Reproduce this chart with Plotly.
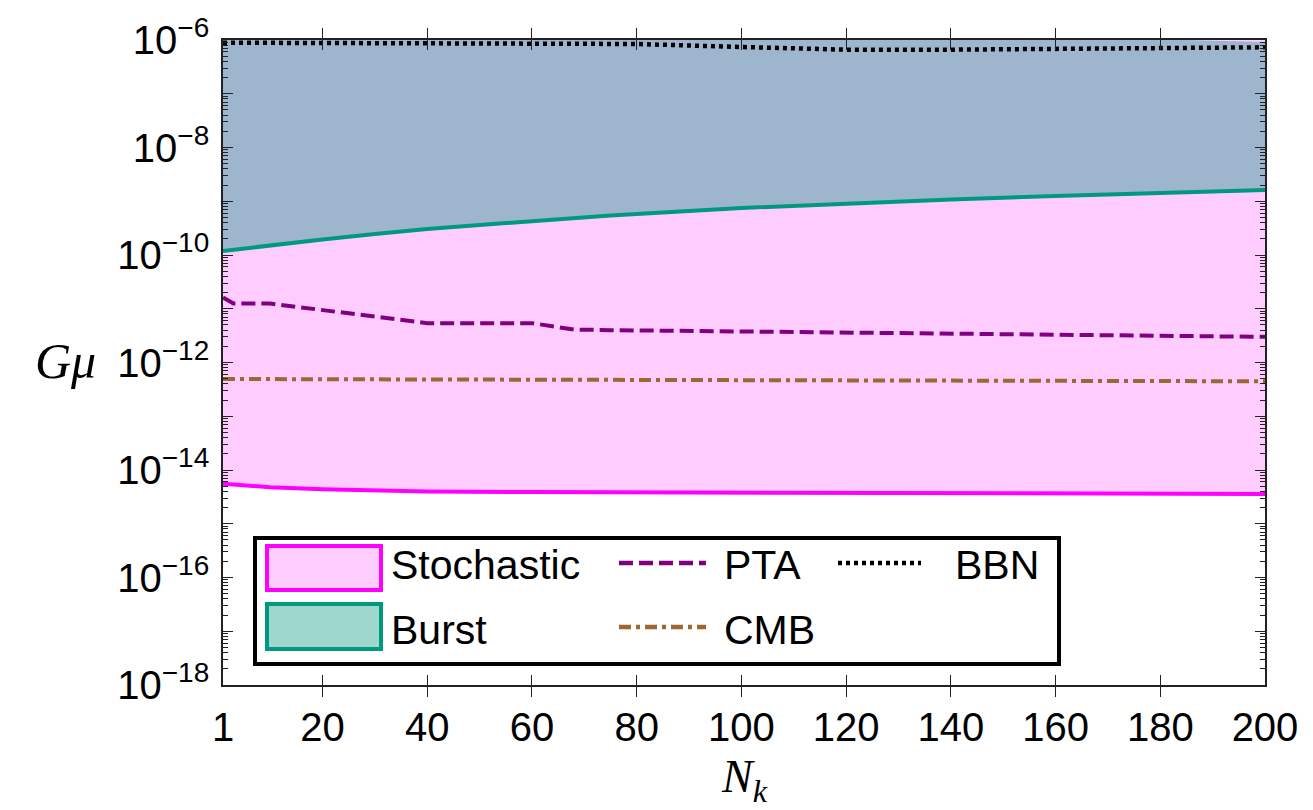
import plotly.graph_objects as go

# ---------------- data ----------------
N_burst = [1, 10, 20, 30, 40, 50, 60, 75, 100, 120, 140, 160, 180, 200]
burst_lower = [1.19e-10, 1.53e-10, 1.94e-10, 2.46e-10, 3.05e-10, 3.62e-10, 4.30e-10,
               5.43e-10, 7.49e-10, 9.08e-10, 1.08e-9, 1.25e-9, 1.42e-9, 1.62e-9]
N_burst_top = [1, 160, 200]
burst_upper = [1.15e-6, 1.15e-6, 9.2e-7]

N_stoch = [1, 10, 20, 30, 40, 60, 80, 120, 160, 200]
stoch_lower = [5.56e-15, 4.79e-15, 4.37e-15, 4.12e-15, 3.98e-15, 3.89e-15, 3.85e-15,
               3.76e-15, 3.67e-15, 3.57e-15]
N_stoch_top = [1, 200]
stoch_upper = [1.2e-6, 1.2e-6]

N_pta = [1, 3, 10, 40, 60, 68, 75, 100, 125, 150, 175, 200]
pta = [1.62e-11, 1.25e-11, 1.25e-11, 5.4e-12, 5.4e-12, 4.1e-12, 4.0e-12, 3.8e-12,
       3.6e-12, 3.4e-12, 3.2e-12, 3.0e-12]

N_cmb = [1, 50, 100, 150, 200]
cmb = [4.93e-13, 4.80e-13, 4.70e-13, 4.58e-13, 4.47e-13]

N_bbn = [1, 40, 75, 80, 100, 120, 140, 160, 180, 200]
bbn = [8.91e-7, 8.81e-7, 8.69e-7, 8.43e-7, 7.41e-7, 6.61e-7, 6.61e-7, 6.92e-7,
       7.10e-7, 7.31e-7]

x_ticks = [1, 20, 40, 60, 80, 100, 120, 140, 160, 180, 200]
y_labelled = [-18, -16, -14, -12, -10, -8, -6]
y_unlabelled = [-17, -15, -13, -11, -9, -7]

legend_names = ["Stochastic", "Burst", "PTA", "CMB", "BBN"]

# ---------------- styles ----------------
PINK = "rgb(255,204,255)"
MAGENTA = "#ff00ff"
TEAL_LINE = "rgb(0,153,128)"
TEAL_FILL = "rgba(0,145,125,0.38)"
TEAL_SWATCH = "rgb(158,216,204)"
PURPLE = "#800080"
BROWN = "rgb(155,104,52)"
FONT = "Liberation Sans, Arial, sans-serif"
SERIF = "Liberation Serif, Times New Roman, serif"

W, H = 1313, 810
L, R, T, B = 215, 1257, 32, 677  # plot area in pixels

fig = go.Figure()

fig.add_trace(go.Scatter(
    x=N_stoch + N_stoch_top[::-1], y=stoch_lower + stoch_upper[::-1],
    fill="toself", fillcolor=PINK, line=dict(width=0), mode="lines",
    showlegend=False, hoverinfo="skip"))
fig.add_trace(go.Scatter(
    x=N_burst + N_burst_top[::-1], y=burst_lower + burst_upper[::-1],
    fill="toself", fillcolor=TEAL_FILL, line=dict(width=0), mode="lines",
    showlegend=False, hoverinfo="skip"))

fig.add_trace(go.Scatter(x=N_stoch, y=stoch_lower, mode="lines",
                         line=dict(color=MAGENTA, width=4), showlegend=False))
fig.add_trace(go.Scatter(x=N_burst, y=burst_lower, mode="lines",
                         line=dict(color=TEAL_LINE, width=4), showlegend=False))
fig.add_trace(go.Scatter(x=N_pta, y=pta, mode="lines",
                         line=dict(color=PURPLE, width=4, dash="14px,6px"), showlegend=False))
fig.add_trace(go.Scatter(x=N_cmb, y=cmb, mode="lines",
                         line=dict(color=BROWN, width=4, dash="12px,5px,4px,5px"), showlegend=False))
fig.add_trace(go.Scatter(x=N_bbn, y=bbn, mode="lines",
                         line=dict(color="black", width=4.5, dash="4px,4px"), showlegend=False))

# ---------------- axes ----------------
ytickvals = [10.0 ** e for e in y_labelled]
yticktext = ["10<sup>\u2212%d</sup>" % (-e) for e in y_labelled]
yminor = [k * 10.0 ** e for e in range(-18, -6) for k in range(2, 10)]

fig.update_xaxes(range=[1, 200], tickvals=x_ticks, ticktext=[str(v) for v in x_ticks],
                 showline=True, linecolor="#222", linewidth=1.5, mirror="allticks",
                 ticks="inside", ticklen=10, tickwidth=1.2, tickcolor="#222",
                 tickfont=dict(family=FONT, size=40, color="black"),
                 ticklabelstandoff=6, showgrid=False, zeroline=False, automargin=False)
fig.update_yaxes(type="log", range=[-18, -6], tickvals=ytickvals, ticktext=yticktext,
                 showline=True, linecolor="#222", linewidth=1.5, mirror="allticks",
                 ticks="inside", ticklen=10, tickwidth=1.2, tickcolor="#222",
                 tickfont=dict(family=FONT, size=40, color="black"),
                 ticklabelstandoff=4, showgrid=False, zeroline=False, automargin=False,
                 minor=dict(tickvals=yminor, ticks="inside", ticklen=5, tickwidth=1,
                            tickcolor="#222", showgrid=False))
# odd decades: unlabelled long ticks on an overlaid axis
fig.update_layout(yaxis2=dict(type="log", range=[-18, -6], overlaying="y", side="left",
                              tickvals=[10.0 ** e for e in y_unlabelled], showticklabels=False,
                              ticks="inside", ticklen=10, tickwidth=1.2, tickcolor="#222",
                              mirror="allticks", showline=False, showgrid=False,
                              zeroline=False, automargin=False))
fig.add_trace(go.Scatter(x=[None], y=[None], yaxis="y2", showlegend=False, hoverinfo="skip"))


def px(x):
    return (x - L) / (R - L)


def py(y):
    return (B - y) / (B - T)


shapes = []
annotations = []

# legend frame
shapes.append(dict(type="rect", xref="paper", yref="paper", x0=px(247), x1=px(1051),
                   y0=py(656), y1=py(530), line=dict(color="black", width=4),
                   fillcolor="white", layer="above"))
# swatches
shapes.append(dict(type="rect", xref="paper", yref="paper", x0=px(259), x1=px(373),
                   y0=py(582), y1=py(538), line=dict(color=MAGENTA, width=4),
                   fillcolor=PINK, layer="above"))
shapes.append(dict(type="rect", xref="paper", yref="paper", x0=px(259), x1=px(373),
                   y0=py(641), y1=py(596), line=dict(color=TEAL_LINE, width=4),
                   fillcolor=TEAL_SWATCH, layer="above"))
# line samples
for (x0, x1, yy, col, dash) in [(611, 698, 555, PURPLE, "14px,6px"),
                                (611, 698, 619, BROWN, "12px,5px,4px,5px"),
                                (830, 913, 555, "black", "4px,4px")]:
    shapes.append(dict(type="line", xref="paper", yref="paper", x0=px(x0), x1=px(x1),
                       y0=py(yy), y1=py(yy), line=dict(color=col, width=4.5, dash=dash),
                       layer="above"))

for name, (tx, ty) in zip(legend_names, [(381, 557), (381, 622), (714, 557), (714, 622), (945, 557)]):
    annotations.append(dict(text=name, x=px(tx), y=py(ty), xref="paper", yref="paper",
                            xanchor="left", yanchor="middle", showarrow=False,
                            font=dict(family=FONT, size=41, color="black")))

# axis titles
annotations.append(dict(text="<i>G\u03bc</i>", x=px(57), y=py(353), xref="paper", yref="paper",
                        xanchor="center", yanchor="middle", showarrow=False,
                        font=dict(family=SERIF, size=50, color="black")))
annotations.append(dict(text="<i>N<sub>k</sub></i>", x=px(736), y=py(772), xref="paper",
                        yref="paper", xanchor="center", yanchor="middle", showarrow=False,
                        font=dict(family=SERIF, size=46, color="black")))

fig.update_layout(width=W, height=H, margin=dict(l=L, r=W - R, t=T, b=H - B),
                  plot_bgcolor="white", paper_bgcolor="white", showlegend=False,
                  shapes=shapes, annotations=annotations)

fig.write_html("out.html")
